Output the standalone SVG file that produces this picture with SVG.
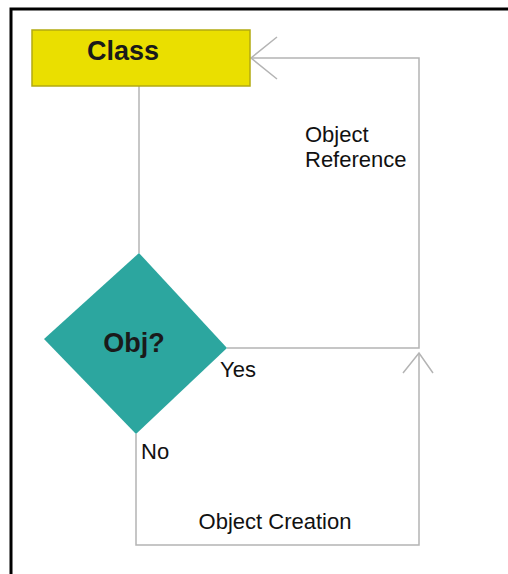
<svg xmlns="http://www.w3.org/2000/svg" width="508" height="574" viewBox="0 0 508 574">
<style>
.conn{fill:none;stroke:#b4b4b4;stroke-width:1.5}
.lbl{font-family:"Liberation Sans",Arial,sans-serif;font-size:22px;fill:#111}
.big{font-family:"Liberation Sans",Arial,sans-serif;font-size:27px;font-weight:bold;fill:#1a1a1a}
</style>
<rect width="508" height="574" fill="#fff"/>
<path d="M11 574 V9 H508" fill="none" stroke="#000" stroke-width="3"/>
<g id="connectors">
<path class="conn" d="M139 86 V253"/>
<path class="conn" d="M227 348 H419 V58 H251"/>
<path class="conn" d="M277 37 L251 58 L277 79"/>
<path class="conn" d="M136 434 V545 H419 V353"/>
<path class="conn" d="M403 373 L419 353 L433 373"/>
</g>
<g id="class">
<rect x="32" y="30" width="218" height="56" fill="#eadf00" stroke="#b3aa10" stroke-width="1.5"/>
<text class="big" x="123" y="60" text-anchor="middle">Class</text>
</g>
<g id="obj">
<polygon points="139,253 227,348 136,434 44,339" fill="#2ca69f"/>
<text class="big" x="134" y="352" text-anchor="middle">Obj?</text>
</g>
<g id="labels">
<text class="lbl" x="305" y="142">Object</text>
<text class="lbl" x="305" y="167">Reference</text>
<text class="lbl" x="220" y="377">Yes</text>
<text class="lbl" x="141" y="459">No</text>
<text class="lbl" x="275" y="529" text-anchor="middle">Object Creation</text>
</g>
</svg>
